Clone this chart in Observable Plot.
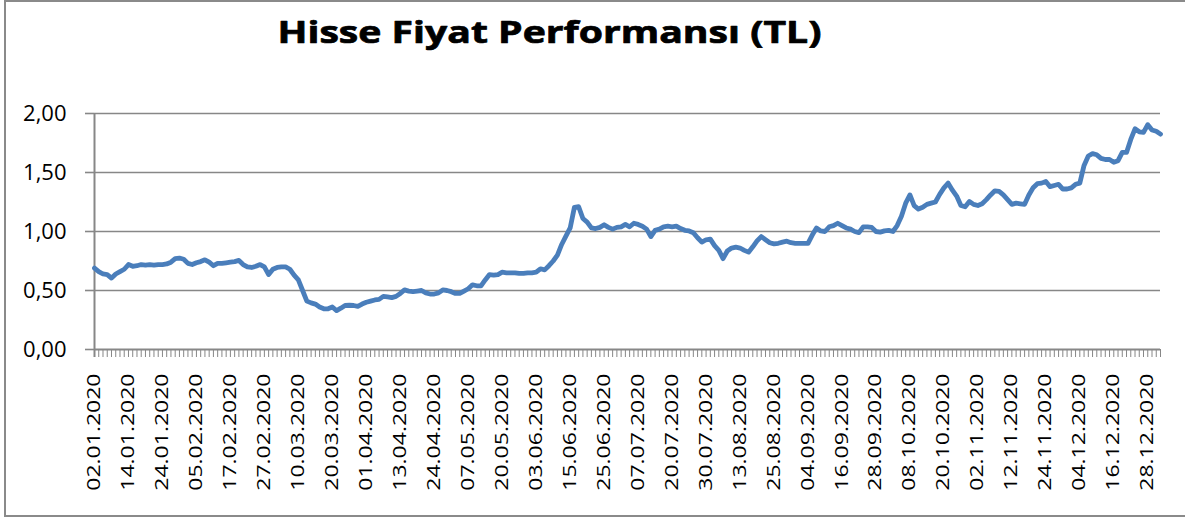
<!DOCTYPE html>
<html>
<head>
<meta charset="utf-8">
<script src="https://cdn.jsdelivr.net/npm/d3@7"></script>
<script src="https://cdn.jsdelivr.net/npm/@observablehq/plot@0.6"></script>
<style>
  html, body { margin: 0; padding: 0; background: #fff; }
  #wrap { position: relative; width: 1185px; height: 517px; overflow: hidden; }
  #border { position: absolute; left: 4px; top: 0; width: 1200px; height: 517px; border: 2px solid #8a8a8a; box-sizing: border-box; pointer-events: none; }
</style>
</head>
<body>
<div id="wrap"><div id="chart"></div><div id="border"></div></div>
<script>
const title = "Hisse Fiyat Performansı (TL)";

// Borsa Istanbul closed days (weekdays) in 2020
const holidays = ["01.01.2020", "23.04.2020", "01.05.2020", "19.05.2020", "25.05.2020",
  "26.05.2020", "15.07.2020", "31.07.2020", "03.08.2020", "29.10.2020"];

const tickLabels = ["02.01.2020", "14.01.2020", "24.01.2020", "05.02.2020", "17.02.2020",
  "27.02.2020", "10.03.2020", "20.03.2020", "01.04.2020", "13.04.2020", "24.04.2020",
  "07.05.2020", "20.05.2020", "03.06.2020", "15.06.2020", "25.06.2020", "07.07.2020",
  "20.07.2020", "30.07.2020", "13.08.2020", "25.08.2020", "04.09.2020", "16.09.2020",
  "28.09.2020", "08.10.2020", "20.10.2020", "02.11.2020", "12.11.2020", "24.11.2020",
  "04.12.2020", "16.12.2020", "28.12.2020"];

const yTicks = [0, 0.5, 1, 1.5, 2];

// daily closing price (TL), one value per trading day
const prices = [
  0.69, 0.66, 0.64, 0.635, 0.605, 0.64, 0.66, 0.68, 0.72, 0.705,
  0.71, 0.72, 0.715, 0.72, 0.715, 0.72, 0.72, 0.725, 0.74, 0.77,
  0.775, 0.765, 0.73, 0.72, 0.735, 0.745, 0.76, 0.74, 0.71, 0.73,
  0.73, 0.735, 0.74, 0.745, 0.755, 0.72, 0.70, 0.695, 0.705, 0.72,
  0.70, 0.635, 0.68, 0.695, 0.70, 0.70, 0.68, 0.63, 0.59, 0.50,
  0.41, 0.395, 0.385, 0.36, 0.345, 0.345, 0.36, 0.33, 0.35, 0.373,
  0.375, 0.373, 0.365, 0.385, 0.40, 0.41, 0.42, 0.425, 0.45, 0.445,
  0.44, 0.45, 0.475, 0.505, 0.495, 0.49, 0.495, 0.50, 0.48, 0.47,
  0.47, 0.48, 0.505, 0.50, 0.49, 0.475, 0.475, 0.495, 0.515, 0.548,
  0.54, 0.54, 0.59, 0.635, 0.63, 0.635, 0.655, 0.65, 0.65, 0.65,
  0.645, 0.645, 0.65, 0.65, 0.655, 0.684, 0.675, 0.71, 0.75, 0.80,
  0.89, 0.96, 1.03, 1.205, 1.21, 1.11, 1.08, 1.03, 1.025, 1.035,
  1.057, 1.035, 1.02, 1.035, 1.04, 1.06, 1.04, 1.07, 1.06, 1.045,
  1.02, 0.957, 1.01, 1.02, 1.04, 1.045, 1.04, 1.045, 1.025, 1.01,
  1.005, 0.99, 0.947, 0.91, 0.93, 0.935, 0.88, 0.84, 0.77, 0.835,
  0.86, 0.867, 0.86, 0.84, 0.825, 0.87, 0.92, 0.957, 0.93, 0.905,
  0.895, 0.90, 0.91, 0.918, 0.905, 0.90, 0.90, 0.90, 0.90, 0.97,
  1.03, 1.005, 1.0, 1.04, 1.05, 1.07, 1.05, 1.03, 1.02, 1.0,
  0.99, 1.04, 1.04, 1.035, 1.0, 0.995, 1.005, 1.01, 1.0, 1.05,
  1.13, 1.24, 1.31, 1.22, 1.19, 1.205, 1.23, 1.24, 1.25, 1.315,
  1.37, 1.41, 1.35, 1.30, 1.22, 1.21, 1.255, 1.23, 1.22, 1.235,
  1.27, 1.31, 1.345, 1.34, 1.31, 1.27, 1.23, 1.24, 1.235, 1.23,
  1.31, 1.37, 1.405, 1.41, 1.424, 1.38, 1.39, 1.40, 1.36, 1.36,
  1.37, 1.40, 1.41, 1.56, 1.64, 1.66, 1.65, 1.62, 1.61, 1.61,
  1.587, 1.60, 1.67, 1.67, 1.78, 1.87, 1.845, 1.84, 1.905, 1.86,
  1.85, 1.825
];

// trading-day calendar of 2020 (weekdays minus holidays)
const pad = n => String(n).padStart(2, "0");
const fmt = d => `${pad(d.getUTCDate())}.${pad(d.getUTCMonth() + 1)}.${d.getUTCFullYear()}`;
const dates = [];
for (let d = new Date(Date.UTC(2020, 0, 1)); d.getUTCFullYear() === 2020; d.setUTCDate(d.getUTCDate() + 1)) {
  const wd = d.getUTCDay();
  if (wd === 0 || wd === 6) continue;
  const s = fmt(d);
  if (holidays.includes(s)) continue;
  dates.push(s);
}
const data = prices.map((v, i) => ({date: dates[i], value: v}));

const gray = "#878787";
const chart = Plot.plot({
  width: 1185,
  height: 517,
  marginLeft: 94,
  marginRight: 25,
  marginTop: 113,
  marginBottom: 168,
  style: {fontFamily: "'Open Sans', sans-serif", background: "transparent", color: "#000"},
  x: {type: "point", domain: dates, padding: 0},
  y: {domain: [0, 2]},
  marks: [
    Plot.ruleY(yTicks.slice(1), {y: d => d, stroke: gray, strokeWidth: 1.6}),
    Plot.ruleX(dates, {x: d => d, y1: 0, y2: 0, insetBottom: -8, stroke: gray, strokeWidth: 1}),
    Plot.ruleY([0], {y: d => d, stroke: gray, strokeWidth: 2}),
    Plot.ruleX([dates[0]], {x: d => d, y1: 2, y2: 0, insetBottom: -8, stroke: gray, strokeWidth: 2}),
    Plot.axisY({ticks: yTicks, tickSize: 9, tickPadding: 19, label: null,
      tickFormat: d => d.toFixed(2).replace(".", ","), fontSize: 22, stroke: gray, strokeWidth: 1.6}),
    Plot.axisX({ticks: tickLabels, tickSize: 0, tickPadding: 24, tickRotate: -90, label: null, fontSize: 23}),
    Plot.lineY(data, {x: "date", y: "value", stroke: "#4A7EBB", strokeWidth: 4.8,
      strokeLinejoin: "round", strokeLinecap: "round"}),
    Plot.text([title], {text: d => d, frameAnchor: "top-left", dx: 183, dy: -71,
      textAnchor: "start", lineAnchor: "bottom", fontSize: 30, fontWeight: "bold",
      stroke: "#000", strokeWidth: 0.7, fill: "#000"})
  ]
});

// compress rotated date labels across their height, as in the reference
chart.querySelectorAll('g[aria-label="x-axis tick label"] text').forEach(t => {
  const tr = t.getAttribute("transform") || "";
  t.setAttribute("transform", tr + " scale(1,0.75)");
});
// stretch the title to the reference's width
chart.querySelectorAll('g[aria-label="text"] text').forEach(t => {
  t.setAttribute("textLength", "544");
  t.setAttribute("lengthAdjust", "spacingAndGlyphs");
});

document.getElementById("chart").appendChild(chart);
</script>
</body>
</html>
